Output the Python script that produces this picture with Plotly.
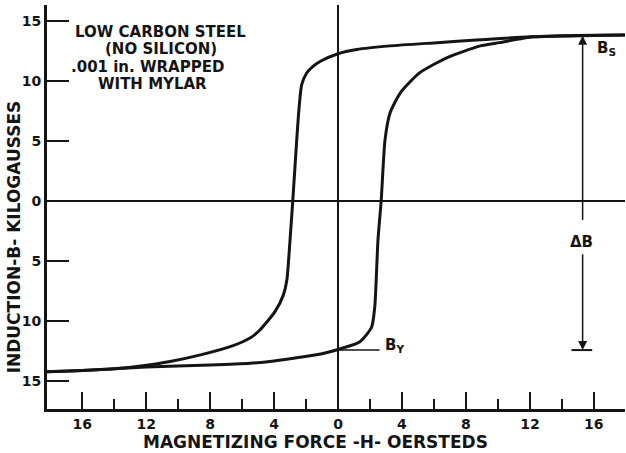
import plotly.graph_objects as go

# Descending branch (from +saturation toward -saturation)
upper_h = [17.95, 16, 12, 8.9, 6, 3.25, 1.17, 0, -1.125, -1.6, -1.96, -2.27, -2.45, -2.58, -2.83, -3.0, -3.2, -3.42, -3.94, -4.9, -5.5, -6.6, -8.6, -10.5, -12.2, -14, -16, -18.2]
upper_b = [13.8, 13.77, 13.65, 13.4, 13.15, 12.9, 12.6, 12.25, 11.6, 11.15, 10.64, 9.67, 7.5, 5.1, 0.0, -3.25, -6.6, -7.83, -9.2, -10.75, -11.4, -12.05, -12.8, -13.35, -13.7, -13.95, -14.1, -14.2]

# Ascending branch (from -saturation toward +saturation)
lower_h = [-18.2, -16, -12, -8, -5.5, -4, -2.4, -1, 0, 1.375, 2.1, 2.3, 2.5, 2.7, 2.94, 3.25, 3.9, 5.1, 6.8, 8.9, 10.1, 12.2, 14, 16, 17.95]
lower_b = [-14.2, -14.1, -13.8, -13.65, -13.5, -13.3, -13.0, -12.7, -12.35, -11.7, -10.5, -8.8, -3.25, 0.0, 5.08, 7.3, 9.0, 10.65, 11.9, 12.9, 13.17, 13.65, 13.75, 13.78, 13.8]

x_major = [-16, -12, -8, -4, 0, 4, 8, 12, 16]
x_labels = ["16", "12", "8", "4", "0", "4", "8", "12", "16"]
x_minor = [-14, -10, -6, -2, 2, 6, 10, 14]
x_top = [-16, -14, -12, -10, -8, -6, -4, -2, 2, 4, 6, 8, 10, 12, 14, 16]
y_major = [-15, -10, -5, 0, 5, 10, 15]
y_labels = ["15", "10", "5", "0", "5", "10", "15"]
y_right = [-15, -10, -5, 5, 10, 15]

note_lines = ["LOW CARBON STEEL", "(NO SILICON)", ".001 in. WRAPPED", "WITH MYLAR"]
B_S = 13.75
B_Y = -12.4
DELTA_X = 15.3

INK = "#141414"
FONT = "DejaVu Sans"

fig = go.Figure()
for hx, by in ((upper_h, upper_b), (lower_h, lower_b)):
    fig.add_trace(go.Scatter(x=hx, y=by, mode="lines",
                             line=dict(color=INK, width=3, shape="spline", smoothing=0.6),
                             showlegend=False, hoverinfo="skip"))

XR = [-18.2, 17.95]
YR = [-17.3, 16.3]

tickf = dict(size=14, family=FONT, color=INK, weight="bold")

fig.update_layout(
    width=626, height=453,
    margin=dict(l=47, r=1, t=5, b=44),
    paper_bgcolor="white", plot_bgcolor="white",
    font=dict(family=FONT, color=INK, size=14),
    xaxis=dict(range=XR, tickmode="array", tickvals=x_major, ticktext=x_labels,
               ticks="inside", ticklen=17, tickwidth=2, tickcolor=INK,
               minor=dict(tickmode="array", tickvals=x_minor, ticks="inside",
                          ticklen=10, tickwidth=2, tickcolor=INK),
               showline=True, linewidth=3, linecolor=INK, showgrid=False,
               zeroline=True, zerolinecolor=INK, zerolinewidth=1.5,
               tickfont=tickf, automargin=False),
    yaxis=dict(range=YR, tickmode="array", tickvals=y_major, ticktext=y_labels,
               ticks="inside", ticklen=22, tickwidth=2, tickcolor=INK,
               showline=True, linewidth=3, linecolor=INK, showgrid=False,
               zeroline=True, zerolinecolor=INK, zerolinewidth=1.5,
               tickfont=tickf, automargin=False),
    xaxis2=dict(range=XR, overlaying="x", side="top", anchor="y",
                tickmode="array", tickvals=x_top, ticks="inside", ticklen=13,
                tickwidth=2, tickcolor=INK, showticklabels=False,
                showline=True, linewidth=2, linecolor=INK, showgrid=False, zeroline=False),
    yaxis2=dict(range=YR, overlaying="y", side="right", anchor="x",
                tickmode="array", tickvals=y_right, ticks="inside", ticklen=18,
                tickwidth=2, tickcolor=INK, showticklabels=False,
                showline=True, linewidth=2, linecolor=INK, showgrid=False, zeroline=False),
)

# note block
note_x = [-11.1, -11.1, -11.9, -11.6]
note_y = [14.08, 12.62, 11.16, 9.7]
for t, xx, yy in zip(note_lines, note_x, note_y):
    fig.add_annotation(x=xx, y=yy, text=t, showarrow=False,
                       font=dict(size=15, family=FONT, color=INK, weight="bold"),
                       xanchor="center", yanchor="middle")

# axis titles
fig.add_annotation(xref="paper", yref="paper", x=0.464, y=-0.082,
                   text="MAGNETIZING FORCE -H- OERSTEDS", showarrow=False,
                   font=dict(size=17, family=FONT, color=INK, weight="bold"),
                   xanchor="center", yanchor="middle")
fig.add_annotation(xref="paper", yref="paper", x=-0.058, y=0.426,
                   text="INDUCTION-B- KILOGAUSSES", showarrow=False, textangle=-90,
                   font=dict(size=17, family=FONT, color=INK, weight="bold"),
                   xanchor="center", yanchor="middle")

# B_S label and Delta B arrows
fig.add_annotation(x=16.8, y=12.7, text="B<sub>S</sub>", showarrow=False,
                   font=dict(size=15, family=FONT, color=INK, weight="bold"))
fig.add_annotation(x=DELTA_X, y=B_S, ax=DELTA_X, ay=-1.7, axref="x", ayref="y",
                   text="", showarrow=True, arrowhead=2, arrowsize=1.2,
                   arrowwidth=1.5, arrowcolor=INK)
fig.add_annotation(x=DELTA_X, y=B_Y, ax=DELTA_X, ay=-4.3, axref="x", ayref="y",
                   text="", showarrow=True, arrowhead=2, arrowsize=1.2,
                   arrowwidth=1.5, arrowcolor=INK)
fig.add_annotation(x=DELTA_X - 0.1, y=-3.4, text="\u0394B", showarrow=False,
                   font=dict(size=15, family=FONT, color=INK, weight="bold"))
fig.add_shape(type="line", x0=DELTA_X - 0.7, x1=DELTA_X + 0.6, y0=B_Y, y1=B_Y,
              line=dict(color=INK, width=2))

# B_Y label
fig.add_shape(type="line", x0=0, x1=2.6, y0=B_Y, y1=B_Y,
              line=dict(color=INK, width=1.5))
fig.add_annotation(x=2.8, y=-12.0, text="B<sub>Y</sub>", showarrow=False,
                   xanchor="left", font=dict(size=15, family=FONT, color=INK, weight="bold"))

fig.write_html("out.html", config={"displayModeBar": False},
               post_script="document.body.style.margin='0';")
